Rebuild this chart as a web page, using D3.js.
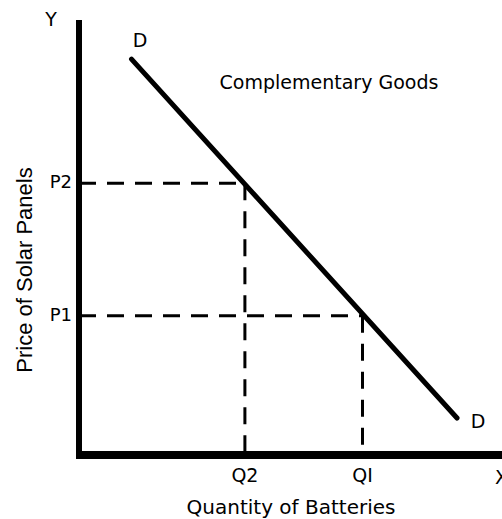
<!DOCTYPE html>
<html lang="en">
<head>
    <meta charset="UTF-8">
    <title>Complementary Goods</title>
    <script src="https://d3js.org/d3.v7.min.js"></script>
    <style>
        body { margin: 0; background: #fff; }
        text { font-family: "DejaVu Sans", Verdana, sans-serif; fill: #000; }
    </style>
</head>
<body>
    <div id="chart"></div>
    <script>
        // demand curve end points (quantity, price)
        var demandQ = [1.25, 9.0];
        var demandP = [9.1, 0.85];
        // price levels and their labels
        var priceValues = [6.25, 3.2];
        var priceLabels = ["P2", "P1"];
        // quantity levels and their labels
        var quantityValues = [3.95, 6.75];
        var quantityLabels = ["Q2", "QI"];

        var width = 502, height = 519;

        var svg = d3.select("#chart")
            .append("svg")
            .attr("width", width)
            .attr("height", height);

        // scales
        var x = d3.scaleLinear().domain([0, 10]).range([79, 499]);
        var y = d3.scaleLinear().domain([0, 10]).range([455, 20]);

        // axes
        svg.append("line")
            .attr("x1", x(0)).attr("x2", x(0))
            .attr("y1", y(10)).attr("y2", y(0) + 4)
            .attr("stroke", "#000").attr("stroke-width", 6);
        svg.append("line")
            .attr("x1", x(0) - 3).attr("x2", width)
            .attr("y1", y(0)).attr("y2", y(0))
            .attr("stroke", "#000").attr("stroke-width", 8);

        // dashed guide lines
        priceValues.forEach(function (p, i) {
            var q = quantityValues[i];
            svg.append("line")
                .attr("x1", x(0)).attr("x2", x(q))
                .attr("y1", y(p)).attr("y2", y(p))
                .attr("stroke", "#000").attr("stroke-width", 3)
                .attr("stroke-dasharray", "17,11");
            svg.append("line")
                .attr("x1", x(q)).attr("x2", x(q))
                .attr("y1", y(p)).attr("y2", y(0))
                .attr("stroke", "#000").attr("stroke-width", 3)
                .attr("stroke-dasharray", "17,11");
        });

        // demand line
        svg.append("line")
            .attr("x1", x(demandQ[0])).attr("y1", y(demandP[0]))
            .attr("x2", x(demandQ[1])).attr("y2", y(demandP[1]))
            .attr("stroke", "#000").attr("stroke-width", 5)
            .attr("stroke-linecap", "round");

        // price labels
        svg.selectAll(".plabel")
            .data(priceValues)
            .enter().append("text")
            .attr("x", 72)
            .attr("y", function (d) { return y(d) + 5; })
            .attr("text-anchor", "end")
            .style("font-size", "18px")
            .text(function (d, i) { return priceLabels[i]; });

        // quantity labels
        svg.selectAll(".qlabel")
            .data(quantityValues)
            .enter().append("text")
            .attr("x", function (d) { return x(d); })
            .attr("y", 482)
            .attr("text-anchor", "middle")
            .style("font-size", "19px")
            .text(function (d, i) { return quantityLabels[i]; });

        // curve labels
        svg.append("text").attr("x", 140).attr("y", 47)
            .attr("text-anchor", "middle").style("font-size", "19px").text("D");
        svg.append("text").attr("x", 478).attr("y", 428)
            .attr("text-anchor", "middle").style("font-size", "19px").text("D");

        // axis letters
        svg.append("text").attr("x", 51).attr("y", 26)
            .attr("text-anchor", "middle").style("font-size", "19px").text("Y");
        svg.append("text").attr("x", 495).attr("y", 484)
            .style("font-size", "19px").text("X");

        // title
        svg.append("text").attr("x", 329).attr("y", 89)
            .attr("text-anchor", "middle").style("font-size", "19px")
            .text("Complementary Goods");

        // axis titles
        svg.append("text").attr("x", 291).attr("y", 514)
            .attr("text-anchor", "middle").style("font-size", "20px")
            .text("Quantity of Batteries");
        svg.append("text")
            .attr("transform", "translate(32,270) rotate(-90)")
            .attr("text-anchor", "middle")
            .style("font-family", "'Liberation Sans', Arial, sans-serif")
            .style("font-size", "22px")
            .text("Price of Solar Panels");
    </script>
</body>
</html>
